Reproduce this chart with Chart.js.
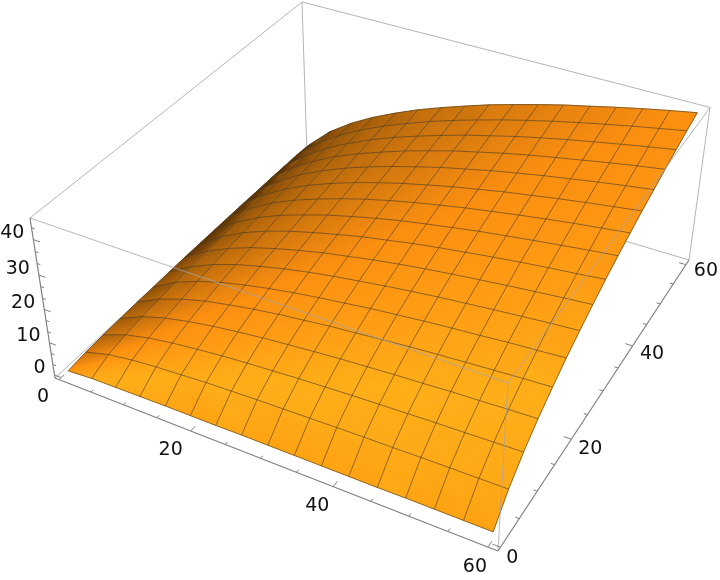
<!DOCTYPE html>
<html>
<head>
<meta charset="utf-8">
<style>
  body { margin: 0; background: #fff; }
  canvas { display: block; }
</style>
<script src="https://cdn.jsdelivr.net/npm/chart.js@4"></script>
</head>
<body>
<canvas id="chart" width="720" height="580"></canvas>
<script>
// sample positions of the mesh, same for both horizontal axes
const gridX = [0.6, 4.3, 8.0, 11.7, 15.5, 19.2, 22.9, 26.6, 30.3, 34.0, 37.7, 41.4, 45.2, 48.9, 52.6, 56.3, 60];
const gridY = [0.6, 4.3, 8.0, 11.7, 15.5, 19.2, 22.9, 26.6, 30.3, 34.0, 37.7, 41.4, 45.2, 48.9, 52.6, 56.3, 60];

// surface height, one row per gridY value
const heights = [
  [0.5, 1.0, 1.1, 1.2, 1.3, 1.3, 1.3, 1.4, 1.4, 1.4, 1.4, 1.4, 1.4, 1.5, 1.5, 1.5, 1.5],
  [1.2, 3.2, 4.3, 5.0, 5.5, 6.0, 6.3, 6.6, 6.8, 7.0, 7.2, 7.4, 7.5, 7.7, 7.8, 7.9, 8.0],
  [1.5, 4.3, 6.0, 7.2, 8.1, 8.9, 9.5, 10.0, 10.5, 10.9, 11.3, 11.6, 11.9, 12.2, 12.4, 12.7, 12.9],
  [1.7, 5.0, 7.2, 8.8, 10.1, 11.1, 12.0, 12.7, 13.4, 14.0, 14.5, 15.0, 15.4, 15.9, 16.2, 16.6, 16.9],
  [1.9, 5.5, 8.1, 10.1, 11.6, 12.9, 14.0, 14.9, 15.8, 16.5, 17.2, 17.9, 18.5, 19.0, 19.5, 20.0, 20.4],
  [2.0, 6.0, 8.9, 11.1, 12.9, 14.4, 15.7, 16.8, 17.8, 18.8, 19.6, 20.4, 21.1, 21.7, 22.4, 22.9, 23.5],
  [2.1, 6.3, 9.5, 12.0, 14.0, 15.7, 17.2, 18.5, 19.6, 20.7, 21.7, 22.6, 23.4, 24.2, 24.9, 25.6, 26.2],
  [2.2, 6.6, 10.0, 12.7, 14.9, 16.8, 18.5, 19.9, 21.3, 22.5, 23.6, 24.6, 25.5, 26.4, 27.2, 28.0, 28.7],
  [2.2, 6.8, 10.5, 13.4, 15.8, 17.8, 19.6, 21.3, 22.7, 24.1, 25.3, 26.4, 27.5, 28.5, 29.4, 30.2, 31.1],
  [2.2, 7.0, 10.9, 14.0, 16.5, 18.8, 20.7, 22.5, 24.1, 25.5, 26.8, 28.1, 29.2, 30.3, 31.3, 32.3, 33.2],
  [2.2, 7.2, 11.3, 14.5, 17.2, 19.6, 21.7, 23.6, 25.3, 26.8, 28.3, 29.6, 30.9, 32.1, 33.2, 34.2, 35.2],
  [2.2, 7.4, 11.6, 15.0, 17.9, 20.4, 22.6, 24.6, 26.4, 28.1, 29.6, 31.1, 32.4, 33.7, 34.9, 36.0, 37.1],
  [2.1, 7.5, 11.9, 15.4, 18.5, 21.1, 23.4, 25.5, 27.5, 29.2, 30.9, 32.4, 33.9, 35.2, 36.5, 37.7, 38.8],
  [2.1, 7.7, 12.2, 15.9, 19.0, 21.7, 24.2, 26.4, 28.5, 30.3, 32.1, 33.7, 35.2, 36.6, 38.0, 39.3, 40.5],
  [2.0, 7.8, 12.4, 16.2, 19.5, 22.4, 24.9, 27.2, 29.4, 31.3, 33.2, 34.9, 36.5, 38.0, 39.4, 40.8, 42.1],
  [1.9, 7.9, 12.7, 16.6, 20.0, 22.9, 25.6, 28.0, 30.2, 32.3, 34.2, 36.0, 37.7, 39.3, 40.8, 42.2, 43.6],
  [1.5, 8.0, 12.9, 16.9, 20.4, 23.5, 26.2, 28.7, 31.1, 33.2, 35.2, 37.1, 38.8, 40.5, 42.1, 43.6, 45.0]
];

const xyMajorTicks = [0, 20, 40, 60];
const xyMinorTicks = [5, 10, 15, 25, 30, 35, 45, 50, 55];
const zMajorTicks = [0, 10, 20, 30, 40];
const zMinorTicks = [3.3, 6.7, 13.3, 16.7, 23.3, 26.7, 33.3, 36.7, 43.3];
const xyTickLabels = ['0', '20', '40', '60'];
const zTickLabels = ['0', '10', '20', '30', '40'];

// pixel nudges of the tick labels away from their ticks
const xLabelOffsets = [[-16, 17], [-20, 19], [-16, 19], [-13, 20]];
const yLabelOffsets = [[12, 11], [19, 10], [19.5, 8], [20, 6]];

// perspective camera, columns are box x, box y, box z, origin
const camera = [
  [384.5, 318.4, -27.12, 55],
  [108.3, -200.3, -175.43, 378],
  [-0.1174, 0.2174, -0.0708, 1]
];

const PAD = 0.02;
const boxX = v => PAD + (1 - 2 * PAD) * (v - 0.6) / 59.4;
const boxZ = v => PAD + (1 - 2 * PAD) * v / 45;

function project(X, Y, Z) {
  const c = camera.map(r => r[0] * X + r[1] * Y + r[2] * Z + r[3]);
  return { x: c[0] / c[2], y: c[1] / c[2], depth: c[2] };
}

function surfacePoint(i, j) {
  return project(boxX(gridX[i]), boxX(gridY[j]), boxZ(heights[j][i]));
}

function lineSet(points, color, width) {
  return { data: points, showLine: true, borderColor: color, borderWidth: width, pointRadius: 0, fill: false, clip: false };
}

// ramp of the lit surface colour against how much the slope leans along x
const rampStops = [
  [0, [255, 163, 18]], [0.2, [255, 168, 22]], [0.33, [255, 174, 24]], [0.42, [255, 156, 20]],
  [0.5, [251, 143, 16]], [0.57, [217, 123, 14]], [0.69, [169, 97, 10]], [0.8, [126, 71, 8]], [1, [90, 51, 5]]
];

function rampColor(t) {
  for (let k = 1; k < rampStops.length; k++) {
    if (t <= rampStops[k][0]) {
      const [t0, c0] = rampStops[k - 1];
      const [t1, c1] = rampStops[k];
      const f = (t - t0) / (t1 - t0);
      return 'rgb(' + c0.map((v, n) => Math.round(v + (c1[n] - v) * f)).join(',') + ')';
    }
  }
  return 'rgb(90,51,5)';
}

function leanAt(i, j) {
  const i0 = Math.max(i - 1, 0), i1 = Math.min(i + 1, gridX.length - 1);
  const j0 = Math.max(j - 1, 0), j1 = Math.min(j + 1, gridY.length - 1);
  const p = Math.max((heights[j][i1] - heights[j][i0]) / (gridX[i1] - gridX[i0]), 0);
  const q = Math.max((heights[j1][i] - heights[j0][i]) / (gridY[j1] - gridY[j0]), 0);
  const a = Math.cbrt(p), b = Math.cbrt(q);
  return a + b > 0 ? a / (a + b) : 0.5;
}

// colours a quad with a gradient running from its least to its most leaning corner
function quadFill(context, corners) {
  const { chart } = context;
  const sx = chart.scales.x, sy = chart.scales.y;
  const ordered = corners.slice().sort((a, b) => a.lean - b.lean);
  const lo = ordered[0], hi = ordered[3];
  const x0 = sx.getPixelForValue(lo.x), y0 = sy.getPixelForValue(lo.y);
  const x1 = sx.getPixelForValue(hi.x), y1 = sy.getPixelForValue(hi.y);
  // the scales have no size yet on the first options pass
  if (![x0, y0, x1, y1].every(Number.isFinite)) {
    return rampColor((lo.lean + hi.lean) / 2);
  }
  const grad = chart.ctx.createLinearGradient(x0, y0, x1, y1);
  for (let s = 0; s <= 4; s++) {
    grad.addColorStop(s / 4, rampColor(lo.lean + (hi.lean - lo.lean) * s / 4));
  }
  return grad;
}

function surfaceQuads() {
  const quads = [];
  for (let j = 0; j < gridY.length - 1; j++) {
    for (let i = 0; i < gridX.length - 1; i++) {
      const corners = [[i, j], [i + 1, j], [i + 1, j + 1], [i, j + 1]].map(([a, b]) => {
        const pt = surfacePoint(a, b);
        pt.lean = leanAt(a, b);
        return pt;
      });
      const depth = corners.reduce((sum, c) => sum + c.depth, 0) / 4;
      const fillFn = context => quadFill(context, corners);
      quads.push({
        depth,
        set: {
          data: corners.concat([corners[0]]).map(c => ({ x: c.x, y: c.y })),
          showLine: true, pointRadius: 0, clip: false,
          fill: 'shape', backgroundColor: fillFn, borderColor: fillFn, borderWidth: 0.8
        }
      });
    }
  }
  return quads.sort((a, b) => b.depth - a.depth).map(q => q.set);
}

function meshLines() {
  const sets = [];
  const meshColor = 'rgba(72,58,36,0.62)';
  gridX.forEach((_, i) => sets.push(lineSet(gridY.map((_, j) => surfacePoint(i, j)), meshColor, 1)));
  gridY.forEach((_, j) => sets.push(lineSet(gridX.map((_, i) => surfacePoint(i, j)), meshColor, 1)));
  return sets;
}

// tick marks along one axis, separated by empty points so one data set holds them all
function tickSet(values, toStart, toEnd, color) {
  const pts = [];
  values.forEach(v => {
    pts.push(toStart(v), toEnd(v), { x: null, y: null });
  });
  return lineSet(pts, color, 1);
}

const corner = (X, Y, Z) => project(X, Y, Z);
const boxGray = '#b4b4b4';
const axisGray = '#7f7f7f';

const backEdges = [
  [[0, 0, 0], [0, 1, 0]], [[0, 1, 0], [1, 1, 0]], [[0, 1, 0], [0, 1, 1]],
  [[0, 0, 1], [0, 1, 1]], [[0, 1, 1], [1, 1, 1]], [[1, 1, 0], [1, 1, 1]]
].map(([a, b]) => lineSet([corner(...a), corner(...b)], boxGray, 1));

const frontEdges = [
  [[0, 0, 1], [1, 0, 1]], [[1, 0, 1], [1, 1, 1]], [[1, 0, 0], [1, 0, 1]]
].map(([a, b]) => lineSet([corner(...a), corner(...b)], 'rgba(165,165,165,0.8)', 1));

const axisEdges = [
  [[0, 0, 0], [1, 0, 0]], [[1, 0, 0], [1, 1, 0]], [[0, 0, 0], [0, 0, 1]]
].map(([a, b]) => lineSet([corner(...a), corner(...b)], axisGray, 1.2));

const MAJOR = 0.016, MINOR = 0.008;
const tickSets = [
  tickSet(xyMajorTicks, v => project(boxX(v), 0, 0), v => project(boxX(v), MAJOR, 0), axisGray),
  tickSet(xyMinorTicks, v => project(boxX(v), 0, 0), v => project(boxX(v), MINOR, 0), axisGray),
  tickSet(xyMajorTicks, v => project(1, boxX(v), 0), v => project(1 - MAJOR, boxX(v), 0), axisGray),
  tickSet(xyMinorTicks, v => project(1, boxX(v), 0), v => project(1 - MINOR, boxX(v), 0), axisGray),
  tickSet(zMajorTicks, v => project(0, 0, boxZ(v)), v => project(MAJOR, 0, boxZ(v)), axisGray),
  tickSet(zMinorTicks, v => project(0, 0, boxZ(v)), v => project(MINOR, 0, boxZ(v)), axisGray)
];

// Chart.js paints the first data set last, so flip the back-to-front list
const paintOrder = [...backEdges, ...surfaceQuads(), ...meshLines(), ...frontEdges, ...axisEdges, ...tickSets];

const tickLabelPlugin = {
  id: 'tickLabels',
  afterDraw(chart) {
    const { ctx, scales } = chart;
    const put = (text, pos, dx, dy, align) => {
      ctx.textAlign = align;
      ctx.fillText(text, scales.x.getPixelForValue(pos.x) + dx, scales.y.getPixelForValue(pos.y) + dy);
    };
    ctx.save();
    ctx.font = '19px "DejaVu Sans"';
    ctx.fillStyle = '#111';
    ctx.textBaseline = 'middle';
    xyTickLabels.forEach((text, k) => {
      const v = xyMajorTicks[k];
      put(text, project(boxX(v), 0, 0), xLabelOffsets[k][0], xLabelOffsets[k][1], 'center');
      put(text, project(1, boxX(v), 0), yLabelOffsets[k][0], yLabelOffsets[k][1], 'center');
    });
    zTickLabels.forEach((text, k) => {
      put(text, project(0, 0, boxZ(zMajorTicks[k])), -9, -6.5, 'right');
    });
    ctx.restore();
  }
};

new Chart(document.getElementById('chart'), {
  type: 'scatter',
  data: { datasets: paintOrder.reverse() },
  options: {
    responsive: false,
    animation: false,
    layout: { padding: 0 },
    elements: { line: { tension: 0 } },
    plugins: { legend: { display: false }, tooltip: { enabled: false } },
    scales: {
      x: { type: 'linear', min: 0, max: 720, display: false },
      y: { type: 'linear', min: 0, max: 580, reverse: true, display: false }
    }
  },
  plugins: [tickLabelPlugin]
});
</script>
</body>
</html>
